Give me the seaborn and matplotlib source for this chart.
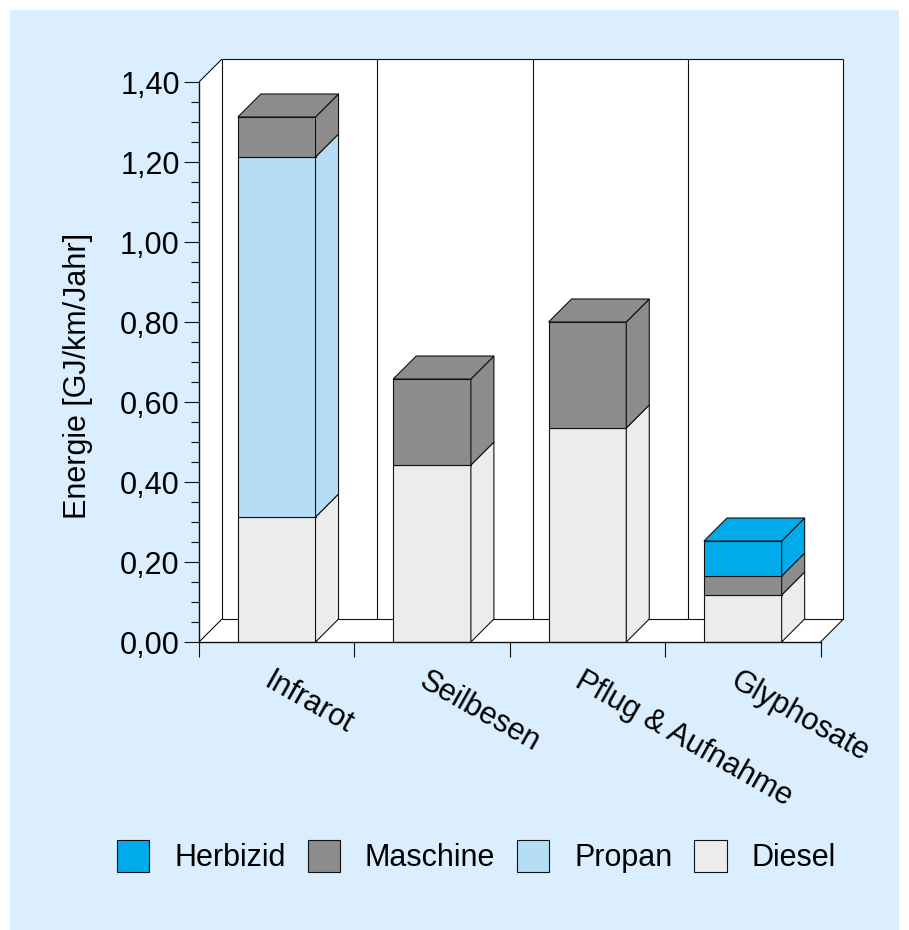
import matplotlib
matplotlib.use("Agg")
import matplotlib.pyplot as plt
from matplotlib.patches import Rectangle
from matplotlib.ticker import MultipleLocator
from matplotlib.transforms import ScaledTranslation
import numpy as np
import pandas as pd
import seaborn as sns

categories = ["Infrarot", "Seilbesen", "Pflug & Aufnahme", "Glyphosate"]
diesel = [0.3125, 0.4425, 0.535, 0.1175]
propan = [0.90, 0.0, 0.0, 0.0]
maschine = [0.10, 0.215, 0.265, 0.0475]
herbizid = [0.0, 0.0, 0.0, 0.0875]
series_names = ["Diesel", "Propan", "Maschine", "Herbizid"]
series_values = [diesel, propan, maschine, herbizid]
series_colors = ["#ECECEC", "#B5DDF6", "#8C8C8C", "#00ABEC"]
y_tick_values = [0.0, 0.2, 0.4, 0.6, 0.8, 1.0, 1.2, 1.4]
y_tick_labels = ["0,00", "0,20", "0,40", "0,60", "0,80", "1,00", "1,20", "1,40"]
y_title = "Energie [GJ/km/Jahr]"

W, H, DPI = 909, 930, 100
PANEL = "#DBEEFD"
EDGE = "#111111"
LW = 0.8
FS = 22
BAR_W = 0.5
DX, DY = 23 / 155.4, 23 / 400.0

sns.set_theme(style="white")
plt.rcParams["font.family"] = ["Liberation Sans", "DejaVu Sans"]

fig = plt.figure(figsize=(W / DPI, H / DPI), dpi=DPI, facecolor="white")
fig.add_artist(Rectangle((10 / W, 0), 889 / W, 920 / H, transform=fig.transFigure,
                         facecolor=PANEL, edgecolor="none", zorder=-5))
ax = fig.add_axes([199 / W, 1 - 642 / H, 621.5 / W, 560 / H], facecolor="none")

XL, XR, YT = -0.5, 3.5, 1.4

# walls and floor
wall = dict(facecolor="white", edgecolor="none", zorder=0.2, clip_on=False)
ax.fill([XL + DX, XR + DX, XR + DX, XL + DX], [DY, DY, YT + DY, YT + DY], **wall)
ax.fill([XL, XL + DX, XL + DX, XL], [0, DY, YT + DY, YT], **wall)
ax.fill([XL, XR, XR + DX, XL + DX], [0, 0, DY, DY], **wall)
line = dict(color=EDGE, lw=LW, zorder=0.4, clip_on=False, solid_capstyle="butt")
for i in range(len(categories) + 1):
    ax.plot([XL + i + DX] * 2, [DY, YT + DY], **line)
ax.plot([XL + DX, XR + DX], [YT + DY, YT + DY], **line)
ax.plot([XL + DX, XR + DX], [DY, DY], **line)
ax.plot([XL, XL + DX], [YT, YT + DY], **line)
ax.plot([XL, XL + DX], [0, DY], **line)
ax.plot([XR, XR + DX], [0, DY], **line)

# bars
bottoms = np.zeros(len(categories))
for name, vals, col in zip(series_names, series_values, series_colors):
    vals = np.array(vals)
    keep = vals > 0
    df = pd.DataFrame({"cat": np.array(categories)[keep], "v": vals[keep], "b": bottoms[keep]})
    sns.barplot(data=df, x="cat", y="v", order=categories, bottom=df["b"].to_numpy(), color=col,
                saturation=1, width=BAR_W, edgecolor=EDGE, linewidth=LW, label=name,
                errorbar=None, ax=ax, zorder=1)
    for i in np.where(keep)[0]:
        r = i + BAR_W / 2
        b0, b1 = bottoms[i], bottoms[i] + vals[i]
        ax.fill([r, r + DX, r + DX, r], [b0, b0 + DY, b1 + DY, b1], facecolor=col,
                edgecolor=EDGE, linewidth=LW, zorder=1, clip_on=False)
    bottoms = bottoms + vals
for i, total in enumerate(bottoms):
    col = series_colors[max(k for k, s in enumerate(series_values) if s[i] > 0)]
    l, r = i - BAR_W / 2, i + BAR_W / 2
    ax.fill([l, r, r + DX, l + DX], [total, total, total + DY, total + DY], facecolor=col,
            edgecolor=EDGE, linewidth=LW, zorder=1, clip_on=False)

ax.set_xlim(XL, XR)
ax.set_ylim(0, YT)
sns.despine(ax=ax, top=True, right=True)
for s in ("left", "bottom"):
    ax.spines[s].set_color(EDGE)
    ax.spines[s].set_linewidth(LW + 0.2)

ax.set_yticks(y_tick_values, y_tick_labels)
ax.yaxis.set_minor_locator(MultipleLocator(0.05))
ax.tick_params(axis="y", which="major", left=True, length=10.8, width=LW, color=EDGE,
               labelsize=FS, labelcolor="black", pad=3)
ax.tick_params(axis="y", which="minor", left=True, length=5.8, width=LW, color=EDGE)
ax.set_xticks(np.arange(len(categories) + 1) - 0.5, [""] * (len(categories) + 1))
ax.set_xticks(np.arange(len(categories)), categories, minor=True)
ax.tick_params(axis="x", which="major", bottom=True, length=10.8, width=LW, color=EDGE)
ax.tick_params(axis="x", which="minor", bottom=False, length=0, labelsize=FS, labelcolor="black", pad=17)
off = ScaledTranslation(-3 / DPI, 0, fig.dpi_scale_trans)
for t in ax.get_xticklabels(minor=True):
    t.set_rotation(-29.5)
    t.set_ha("left")
    t.set_va("top")
    t.set_rotation_mode("anchor")
    t.set_transform(t.get_transform() + off)

ax.set_xlabel("")
ax.set_ylabel(y_title, fontsize=FS, color="black")
ax.yaxis.set_label_coords(-0.17, 0.475)

handles, labels = ax.get_legend_handles_labels()
leg = ax.legend(handles[::-1], labels[::-1], ncol=4, loc="center left", frameon=False,
                bbox_to_anchor=(117 / W, 1 - 856.5 / H), bbox_transform=fig.transFigure,
                fontsize=FS, handlelength=1.05, handleheight=1.24, handletextpad=0.82,
                columnspacing=0.72, borderpad=0, borderaxespad=0, labelcolor="black")

fig.savefig("out.png", dpi=DPI, facecolor="white")
